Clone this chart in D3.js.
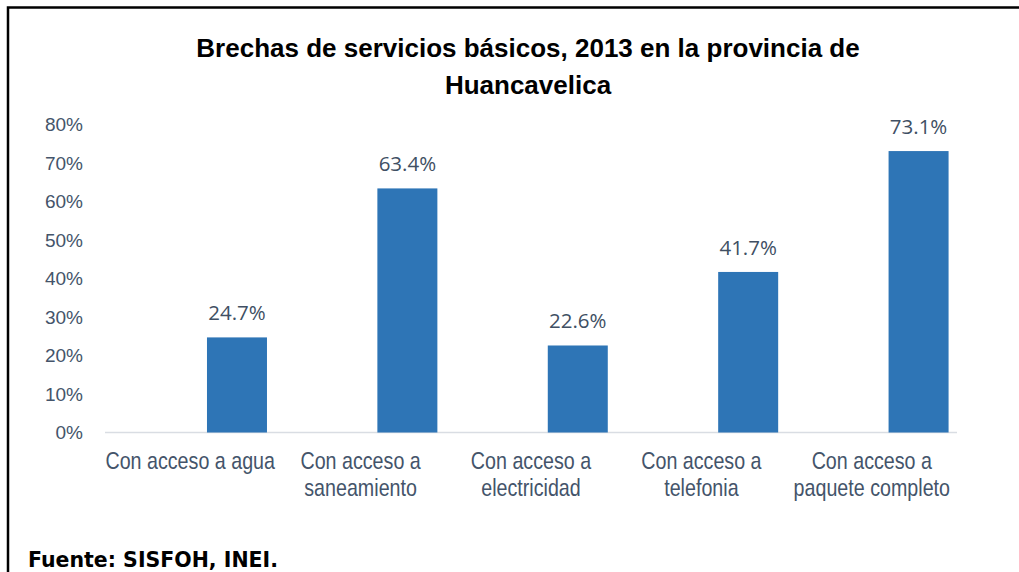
<!DOCTYPE html>
<html><head><meta charset="utf-8">
<script src="https://cdn.jsdelivr.net/npm/d3@7"></script>
<style>body{margin:0;background:#fff}svg{display:block}</style>
</head><body><svg id="c" width="1019" height="572"></svg>
<script>
const categories = [["Con acceso a agua"],["Con acceso a","saneamiento"],["Con acceso a","electricidad"],["Con acceso a","telefonia"],["Con acceso a","paquete completo"]];
const values = [24.7, 63.4, 22.6, 41.7, 73.1];
const yTicks = [0,10,20,30,40,50,60,70,80];
const titleLines = ["Brechas de servicios básicos, 2013 en la provincia de","Huancavelica"];
const source = "Fuente: SISFOH, INEI.";
const seriesSlots = ["vacío","valor"];

const svg = d3.select("#c");
const sans = "'Liberation Sans',Arial,sans-serif";
const axisColor = "#44546a";

// border
svg.append("path").attr("d","M8,600 V7.5 H1019").attr("fill","none").attr("stroke","#000").attr("stroke-width",2.5);

const x = d3.scaleBand().domain(d3.range(categories.length)).range([105,957]).padding(0);
const xi = d3.scaleBand().domain(seriesSlots).range([0,x.bandwidth()]).paddingInner(0.4).paddingOuter(0.052).align(0.19);
const y = d3.scaleLinear().domain([0,80]).range([432.5,124.5]);

// title
svg.append("g").selectAll("text").data(titleLines).join("text")
  .attr("x",528).attr("y",(d,i)=>57+i*37).attr("text-anchor","middle")
  .attr("font-family",sans).attr("font-weight","bold").attr("font-size",26).attr("fill","#000").text(d=>d);

// y labels
svg.append("g").selectAll("text").data(yTicks).join("text")
  .attr("x",83).attr("y",d=>y(d)+6.5).attr("text-anchor","end")
  .attr("font-family",sans).attr("font-size",19).attr("fill",axisColor).text(d=>d+"%");

// baseline
svg.append("line").attr("x1",105).attr("x2",957).attr("y1",y(0)).attr("y2",y(0)).attr("stroke","#d9dde3").attr("stroke-width",1.5);

// bars
svg.append("g").selectAll("rect").data(values).join("rect")
  .attr("x",(d,i)=>x(i)+xi("valor")).attr("width",xi.bandwidth())
  .attr("y",d=>y(d)).attr("height",d=>y(0)-y(d)).attr("fill","#2e75b6");

// value labels
svg.append("g").selectAll("text").data(values).join("text")
  .attr("x",(d,i)=>x(i)+xi("valor")+xi.bandwidth()/2).attr("y",d=>y(d)-17)
  .attr("text-anchor","middle").attr("font-family","'Open Sans','Noto Sans',sans-serif").attr("font-size",20.5)
  .attr("fill","#404f63").text(d=>d.toFixed(1)+"%");

// category labels (condensed)
const cg = svg.append("g").selectAll("g").data(categories).join("g")
  .attr("transform",(d,i)=>`translate(${x(i)+x.bandwidth()/2},469) scale(0.82,1)`);
cg.selectAll("text").data(d=>d).join("text")
  .attr("x",0).attr("y",(d,i)=>i*27.5).attr("text-anchor","middle")
  .attr("font-family",sans).attr("font-size",24).attr("fill",axisColor).text(d=>d);

// source
svg.append("text").attr("x",28).attr("y",567).attr("font-family","'DejaVu Sans',Verdana,sans-serif")
  .attr("font-weight","bold").attr("font-size",20.5).attr("fill","#000").text(source);
</script></body></html>
